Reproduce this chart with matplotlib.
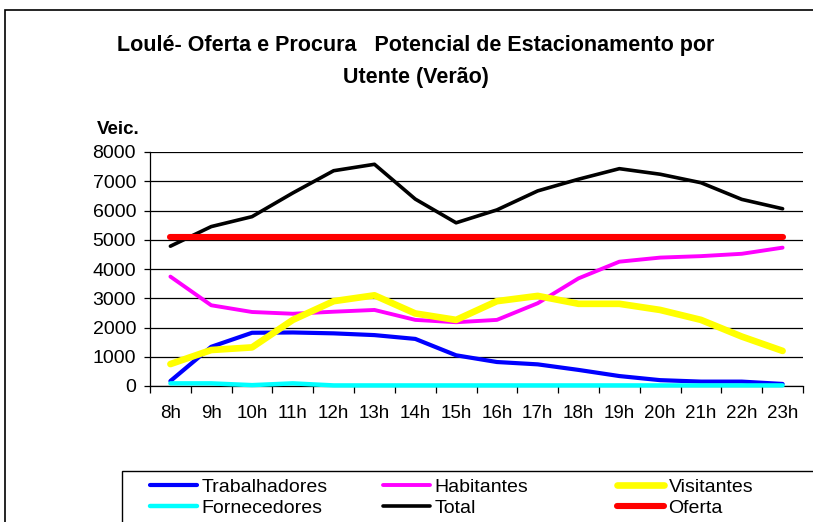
import matplotlib
matplotlib.use("Agg")
import matplotlib.pyplot as plt
from matplotlib.patches import Rectangle
from matplotlib.ticker import MultipleLocator, FixedLocator

plt.rcParams['font.family'] = ['Liberation Sans', 'DejaVu Sans']

# dados
horas = ["8h", "9h", "10h", "11h", "12h", "13h", "14h", "15h",
         "16h", "17h", "18h", "19h", "20h", "21h", "22h", "23h"]
trabalhadores = [170, 1340, 1820, 1830, 1800, 1740, 1610, 1050,
                 820, 740, 550, 340, 200, 150, 150, 70]
habitantes = [3740, 2760, 2530, 2470, 2540, 2600, 2260, 2180,
              2260, 2830, 3680, 4250, 4390, 4440, 4520, 4730]
visitantes = [750, 1230, 1320, 2260, 2900, 3100, 2480, 2260,
              2900, 3080, 2810, 2810, 2600, 2260, 1690, 1200]
fornecedores = [90, 90, 30, 90, 20, 20, 20, 20,
                20, 20, 20, 20, 20, 20, 20, 20]
total = [4780, 5450, 5790, 6600, 7360, 7580, 6390, 5580,
         6020, 6670, 7070, 7430, 7240, 6950, 6380, 6060]
oferta = [5080] * 16

W, H = 813, 522
fig = plt.figure(figsize=(W / 100, H / 100), dpi=100)

# moldura exterior (cortada a direita e em baixo como no original)
fig.patches.append(Rectangle((5 / W, -0.05), 1.05, 1 - 10 / H + 0.05,
                             transform=fig.transFigure, fill=False,
                             edgecolor='black', linewidth=1.2))

ax = fig.add_axes([150 / W, 1 - 386 / H, 653 / W, 234 / H])
x = list(range(len(horas)))

series = [
    ("Trabalhadores", trabalhadores, "#0000FF", 3.0),
    ("Habitantes", habitantes, "#FF00FF", 2.8),
    ("Visitantes", visitantes, "#FFFF00", 4.8),
    ("Fornecedores", fornecedores, "#00FFFF", 3.2),
    ("Total", total, "#000000", 2.6),
    ("Oferta", oferta, "#FF0000", 4.4),
]
linhas = []
for i, (nome, vals, cor, lw) in enumerate(series):
    ln, = ax.plot(x, vals, color=cor, linewidth=lw, label=nome,
                  solid_capstyle='round', solid_joinstyle='round',
                  zorder=3 + i, clip_on=False)
    linhas.append(ln)

ax.set_xlim(-0.5, len(horas) - 0.5)
ax.set_ylim(0, 8000)
ax.yaxis.set_major_locator(MultipleLocator(1000))
ax.grid(axis='y', color='black', linewidth=0.9, zorder=1)
ax.set_axisbelow(True)

ax.set_xticks(x)
ax.set_xticklabels(horas, fontsize=13.5)
ax.xaxis.set_minor_locator(FixedLocator([k - 0.5 for k in range(len(horas) + 1)]))
ax.tick_params(axis='x', which='major', length=0, pad=14)
ax.tick_params(axis='x', which='minor', length=5, width=0.9, color='black')
ax.tick_params(axis='y', length=4, width=0.9, pad=6, labelsize=14)

for s in ['top', 'right']:
    ax.spines[s].set_visible(False)
for s in ['left', 'bottom']:
    ax.spines[s].set_linewidth(0.9)
    ax.spines[s].set_color('black')

fig.text(97 / W, 1 - 130 / H, "Veic.", fontsize=13.5, fontweight='bold',
         ha='left', va='center')

fig.text(416 / W, 1 - 45 / H,
         "Loulé- Oferta e Procura   Potencial de Estacionamento por",
         fontsize=15.5, fontweight='bold', ha='center', va='center')
fig.text(416 / W, 1 - 78 / H, "Utente (Verão)",
         fontsize=15.5, fontweight='bold', ha='center', va='center')

# caixa da legenda
fig.patches.append(Rectangle((122 / W, -0.05), 1.0, 1 - 471 / H + 0.05,
                             transform=fig.transFigure, fill=False,
                             edgecolor='black', linewidth=1.0))

colunas = [(150, [linhas[0], linhas[3]]),
           (383, [linhas[1], linhas[4]]),
           (617, [linhas[2], linhas[5]])]
for xpos, hs in colunas:
    leg = fig.legend(handles=hs, labels=[h.get_label() for h in hs],
                     loc='upper left', bbox_to_anchor=(xpos / W, 1 - 478 / H),
                     frameon=False, fontsize=14, borderpad=0, borderaxespad=0,
                     handlelength=2.4, handletextpad=0.25, labelspacing=0.2)

fig.savefig("out.png", dpi=100)
